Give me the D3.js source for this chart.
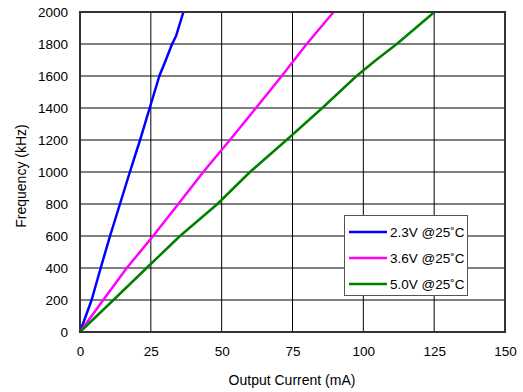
<!DOCTYPE html>
<html><head><meta charset="utf-8">
<script src="https://cdn.jsdelivr.net/npm/d3@7"></script>
<style>body{margin:0;background:#fff}svg{display:block}text{font-family:"Liberation Sans",Arial,sans-serif;fill:#000}</style>
</head><body><svg id="c" width="523" height="392"></svg>
<script>
const xTicks=[0,25,50,75,100,125,150];
const yTicks=[0,200,400,600,800,1000,1200,1400,1600,1800,2000];
const seriesNames=["2.3V @25˚C","3.6V @25˚C","5.0V @25˚C"];
const seriesColors=["#0000ff","#ff00ff","#008000"];
const s23=[[0,0],[4.1,200],[7.3,400],[10.6,600],[14.1,800],[17.6,1000],[21.2,1200],[24.6,1400],[28.0,1600],[30.3,1700],[32.5,1800],[33.9,1850],[36.5,2000]];
const s36=[[0,0],[8.2,200],[16.5,400],[25.8,600],[34.7,800],[43.5,1000],[52.9,1200],[62.1,1400],[71.2,1600],[80.0,1800],[89.5,2000]];
const s50=[[0,0],[11.8,200],[23.5,400],[35.3,600],[48.5,800],[60,1000],[72.9,1200],[85.5,1400],[97.6,1600],[104.5,1700],[111.8,1800],[125.1,2000]];
const allSeries=[s23,s36,s50];

const svg=d3.select("#c");
const x=d3.scaleLinear().domain([0,150]).range([80,505]);
const y=d3.scaleLinear().domain([0,2000]).range([332,12]);

const g=svg.append("g");
g.selectAll(".vg").data(xTicks.slice(1,-1)).join("line")
 .attr("x1",d=>x(d)).attr("x2",d=>x(d)).attr("y1",y(0)).attr("y2",y(2000))
 .attr("stroke","#000").attr("stroke-width",1);
g.selectAll(".hg").data(yTicks.slice(1,-1)).join("line")
 .attr("x1",x(0)).attr("x2",x(150)).attr("y1",d=>y(d)).attr("y2",d=>y(d))
 .attr("stroke","#000").attr("stroke-width",1);

const line=d3.line().x(d=>x(d[0])).y(d=>y(d[1]));
allSeries.forEach((s,i)=>{
 g.append("path").datum(s).attr("d",line).attr("fill","none")
  .attr("stroke",seriesColors[i]).attr("stroke-width",2.5).attr("stroke-linejoin","round");
});

g.append("rect").attr("x",x(0)).attr("y",y(2000)).attr("width",x(150)-x(0)).attr("height",y(0)-y(2000))
 .attr("fill","none").attr("stroke","#333").attr("stroke-width",2);

const xa=svg.append("g").attr("transform",`translate(0,${y(0)})`)
 .call(d3.axisBottom(x).tickValues(xTicks).tickFormat(d3.format("d")).tickSize(0).tickPadding(14));
const ya=svg.append("g").attr("transform",`translate(${x(0)},0)`)
 .call(d3.axisLeft(y).tickValues(yTicks).tickFormat(d3.format("d")).tickSize(0).tickPadding(12));
[xa,ya].forEach(a=>{a.select(".domain").remove();a.selectAll("text").attr("font-size",13.5).attr("font-family","Liberation Sans, Arial, sans-serif").attr("fill","#000");});

svg.append("text").attr("x",292).attr("y",385).attr("text-anchor","middle").attr("font-size",14).text("Output Current (mA)");
svg.append("text").attr("transform","translate(26,176) rotate(-90)").attr("text-anchor","middle").attr("font-size",14).text("Frequency (kHz)");

const lg=svg.append("g");
lg.append("rect").attr("x",344.5).attr("y",215.5).attr("width",123).attr("height",80).attr("fill","#fff").attr("stroke","#555").attr("stroke-width",1);
seriesNames.forEach((n,i)=>{
 const yy=232+i*26;
 lg.append("line").attr("x1",349).attr("x2",387).attr("y1",yy).attr("y2",yy).attr("stroke",seriesColors[i]).attr("stroke-width",2.5);
 lg.append("text").attr("x",390).attr("y",yy+5).attr("font-size",13.5).text(n);
});
</script></body></html>
